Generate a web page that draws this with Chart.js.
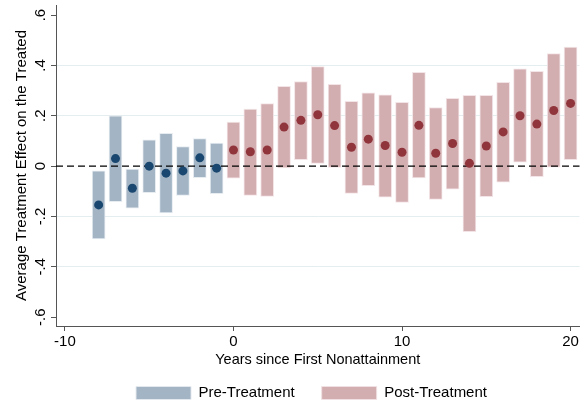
<!DOCTYPE html>
<html>
<head>
<meta charset="utf-8">
<script src="https://cdn.jsdelivr.net/npm/chart.js@4.4.1/dist/chart.umd.min.js"></script>
<style>
  html, body { margin: 0; padding: 0; background: #fff; }
  #wrap { width: 584px; height: 404px; }
</style>
</head>
<body>
<div id="wrap"><canvas id="event_study" width="584" height="404"></canvas></div>
<script>
"use strict";

// years relative to first nonattainment
const pre_years = [-8, -7, -6, -5, -4, -3, -2, -1];
const pre_est = [-0.154, 0.030, -0.088, 0.000, -0.028, -0.019, 0.033, -0.008];
const pre_low = [-0.289, -0.141, -0.167, -0.105, -0.186, -0.116, -0.046, -0.109];
const pre_high = [-0.019, 0.200, -0.012, 0.104, 0.130, 0.078, 0.109, 0.092];

const post_years = [0, 1, 2, 3, 4, 5, 6, 7, 8, 9, 10, 11, 12, 13, 14, 15, 16, 17, 18, 19, 20];
const post_est = [0.064, 0.057, 0.064, 0.155, 0.182, 0.204, 0.161, 0.075, 0.107, 0.082, 0.055,
  0.162, 0.051, 0.090, 0.011, 0.080, 0.136, 0.200, 0.167, 0.221, 0.249];
const post_low = [-0.048, -0.116, -0.120, -0.007, 0.026, 0.011, -0.005, -0.108, -0.078, -0.123, -0.144,
  -0.047, -0.132, -0.092, -0.260, -0.121, -0.064, 0.016, -0.042, -0.004, 0.026];
const post_high = [0.175, 0.227, 0.248, 0.317, 0.336, 0.395, 0.325, 0.257, 0.291, 0.283, 0.253,
  0.373, 0.233, 0.269, 0.281, 0.281, 0.333, 0.386, 0.377, 0.447, 0.473];

const x_ticks = [-10, 0, 10, 20];
const y_ticks = [-0.6, -0.4, -0.2, 0, 0.2, 0.4, 0.6];
const y_tick_labels = ["-.6", "-.4", "-.2", "0", ".2", ".4", ".6"];
const y_grid_at = [-0.4, -0.2, 0.2, 0.4];
const legend_labels = ["Pre-Treatment", "Post-Treatment"];

const x_min = -10.53, x_max = 20.53;
const y_min = -0.635, y_max = 0.64;

Chart.defaults.font.family = "'Liberation Sans', Arial, sans-serif";
Chart.defaults.font.size = 15;
Chart.defaults.color = "#000";

// dashed reference line at zero, drawn over the bars but under the points
const zero_line = {
  id: "zero_line",
  afterDatasetDraw(chart, args) {
    if (args.index !== 0) return;
    const area = chart.chartArea;
    const y = chart.scales.y.getPixelForValue(0);
    const ctx = chart.ctx;
    ctx.save();
    ctx.beginPath();
    ctx.setLineDash([7, 4]);
    ctx.lineWidth = 1.3;
    ctx.strokeStyle = "#000";
    ctx.moveTo(area.left, y);
    ctx.lineTo(area.right, y);
    ctx.stroke();
    ctx.restore();
  },
};

// move the legend box a bit (stata puts it under the plot region)
const legend_shift = {
  id: "legend_shift",
  afterLayout(chart) {
    chart.legend.left += 43;
    chart.legend.top -= 9;
  },
};

function bar_data(years, low, high) {
  return years.map((x, i) => ({ x: x, y: [low[i], high[i]] }));
}

function point_data(years, est) {
  return years.map((x, i) => ({ x: x, y: est[i] }));
}

const config = {
  type: "bar",
  data: {
    datasets: [
      {
        type: "bar",
        label: legend_labels[0],
        data: bar_data(pre_years, pre_low, pre_high),
        backgroundColor: "rgb(163,181,197)",
        borderColor: "rgba(228,234,240,0.9)",
        borderWidth: 1,
        borderSkipped: false,
        barThickness: 13,
        grouped: false,
        order: 2,
      },
      {
        type: "bar",
        label: legend_labels[1],
        data: bar_data(post_years, post_low, post_high),
        backgroundColor: "rgb(211,174,177)",
        borderColor: "rgba(242,226,228,0.9)",
        borderWidth: 1,
        borderSkipped: false,
        barThickness: 13,
        grouped: false,
        order: 2,
      },
      {
        type: "scatter",
        label: "pre_est",
        data: point_data(pre_years, pre_est),
        backgroundColor: "#1a476f",
        borderWidth: 0,
        pointRadius: 4.5,
        order: 1,
      },
      {
        type: "scatter",
        label: "post_est",
        data: point_data(post_years, post_est),
        backgroundColor: "#90353b",
        borderWidth: 0,
        pointRadius: 4.5,
        order: 1,
      },
    ],
  },
  options: {
    responsive: false,
    animation: false,
    devicePixelRatio: 1,
    layout: { padding: { top: 5, right: 4, left: 0, bottom: 0 } },
    plugins: {
      tooltip: { enabled: false },
      legend: {
        position: "bottom",
        maxHeight: 36.5,
        labels: {
          boxWidth: 55,
          boxHeight: 13,
          padding: 27,
          font: { size: 15 },
          filter: (item) => item.datasetIndex < 2,
        },
      },
    },
    scales: {
      x: {
        type: "linear",
        min: x_min,
        max: x_max,
        offset: false,
        afterBuildTicks: (scale) => {
          scale.ticks = x_ticks.map((v) => ({ value: v }));
        },
        afterFit: (scale) => {
          scale.paddingLeft = 0;
          scale.paddingRight = 0;
        },
        ticks: { padding: 2, maxRotation: 0, autoSkip: false, callback: (v) => String(v) },
        grid: { drawOnChartArea: false, offset: false, tickColor: "#555", tickLength: 5 },
        border: { color: "#555", width: 1 },
        title: {
          display: true,
          text: "Years since First Nonattainment",
          font: { size: 14.5, lineHeight: 1 },
          padding: { top: 0, bottom: 0 },
        },
      },
      y: {
        type: "linear",
        min: y_min,
        max: y_max,
        afterBuildTicks: (scale) => {
          scale.ticks = y_ticks.map((v) => ({ value: v }));
        },
        afterFit: (scale) => {
          scale.paddingTop = 0;
          scale.paddingBottom = 0;
        },
        ticks: {
          minRotation: 90,
          maxRotation: 90,
          crossAlign: "center",
          padding: 1,
          callback: (v) => y_tick_labels[y_ticks.indexOf(v)],
        },
        grid: {
          color: (ctx) => (ctx.tick && y_grid_at.includes(ctx.tick.value) ? "#e4edf0" : "rgba(0,0,0,0)"),
          tickColor: "#555",
          tickLength: 5,
        },
        border: { color: "#555", width: 1 },
        title: {
          display: true,
          text: "Average Treatment Effect on the Treated",
          font: { size: 15 },
          padding: { top: 13, bottom: 0 },
        },
      },
    },
  },
  plugins: [zero_line, legend_shift],
};

new Chart(document.getElementById("event_study"), config);
</script>
</body>
</html>
